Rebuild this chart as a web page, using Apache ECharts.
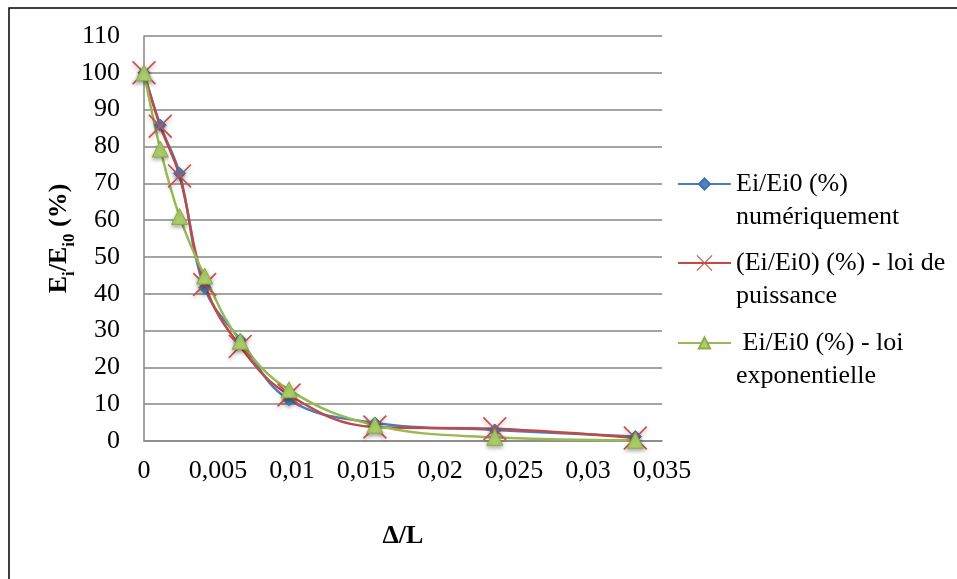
<!DOCTYPE html>
<html>
<head>
<meta charset="utf-8">
<script src="https://cdn.jsdelivr.net/npm/echarts@6/dist/echarts.min.js"></script>
<style>html,body{margin:0;padding:0;background:#fff}#c{width:957px;height:579px}</style>
</head>
<body>
<div id="c"></div>
<script>
const xValues = [0, 0.0011, 0.0024, 0.0041, 0.0065, 0.0098, 0.0156, 0.0237, 0.0332];
const numerique = [100, 85.8, 72.7, 41.6, 27.5, 11.2, 4.9, 3.0, 1.2];
const puissance = [100, 85.5, 72, 42.5, 25.7, 12.5, 3.8, 3.3, 0.8];
const exponentielle = [100, 79.3, 61, 44.8, 27.1, 13.9, 4.3, 1.0, 0.2];
const seriesNames = ['Ei/Ei0 (%)\nnumériquement', '(Ei/Ei0) (%) - loi de\npuissance', ' Ei/Ei0 (%) - loi\nexponentielle'];
const yTicks = {min: 0, max: 110, interval: 10};
const xTicks = {min: 0, max: 0.035, interval: 0.005};

const FONT = '"Liberation Serif", "Times New Roman", serif';
const pairs = arr => xValues.map((x, i) => [x, arr[i]]);
const crossPath = 'path://M0,1L1,0L10,9L19,0L20,1L11,10L20,19L19,20L10,11L1,20L0,19L9,10Z';

const colors = ['#4a7ebb', '#be4b48', '#98b954'];
const chart = echarts.init(document.getElementById('c'), null, {renderer: 'canvas'});

function legendFor(i, centerY, iconH) {
  return {
    data: [seriesNames[i]],
    left: 677, top: centerY - 49.5, padding: 0,
    itemWidth: 53, itemHeight: iconH, itemGap: 5,
    formatter: name => '\n' + name,
    textStyle: {fontFamily: FONT, fontSize: 26, color: '#000', lineHeight: 33}
  };
}

chart.setOption({
  animation: false,
  graphic: [{type: 'rect', shape: {x: 9, y: 8, width: 1000, height: 1000}, style: {fill: 'none', stroke: '#000', lineWidth: 1.5}, silent: true}],
  grid: {left: 144, right: 295, top: 36, bottom: 138},
  legend: [legendFor(0, 184, 14), legendFor(1, 263, 20), legendFor(2, 343, 14)],
  xAxis: {
    type: 'value', min: xTicks.min, max: xTicks.max, interval: xTicks.interval,
    name: 'Δ/L', nameLocation: 'middle', nameGap: 82,
    nameTextStyle: {fontFamily: FONT, fontSize: 26, fontWeight: 'bold', color: '#000'},
    axisLine: {show: true, lineStyle: {color: '#868686', width: 1.5}},
    axisTick: {show: false},
    splitLine: {show: false},
    axisLabel: {fontFamily: FONT, fontSize: 26, color: '#000', margin: 17,
      formatter: v => String(+v.toFixed(4)).replace('.', ',')}
  },
  yAxis: {
    type: 'value', min: yTicks.min, max: yTicks.max, interval: yTicks.interval,
    name: '{b|E}{s|i}{b|/E}{s|i0}{b| (%)}', nameLocation: 'middle', nameGap: 72, nameRotate: 90,
    nameMoveOverlap: false,
    nameTextStyle: {
      rich: {
        b: {fontFamily: FONT, fontSize: 26, fontWeight: 'bold', color: '#000', lineHeight: 30, verticalAlign: 'bottom'},
        s: {fontFamily: FONT, fontSize: 17, fontWeight: 'bold', color: '#000', lineHeight: 30, verticalAlign: 'bottom', padding: [0, 0, -6, 0]}
      }
    },
    axisLine: {show: true, lineStyle: {color: '#868686', width: 1.5}},
    axisTick: {show: false},
    splitLine: {show: true, lineStyle: {color: '#868686', width: 1.5}},
    axisLabel: {fontFamily: FONT, fontSize: 26, color: '#000', margin: 24}
  },
  series: [
    {
      name: seriesNames[0], type: 'line', smooth: 0.4, data: pairs(numerique),
      color: colors[0], symbol: 'diamond', symbolSize: 12,
      lineStyle: {width: 2.5, color: colors[0]},
      itemStyle: {color: '#4f81bd', borderColor: '#3f70b0', borderWidth: 1, shadowBlur: 4, shadowColor: 'rgba(0,0,0,0.35)', shadowOffsetY: 2}
    },
    {
      name: seriesNames[1], type: 'line', smooth: 0.4, data: pairs(puissance),
      color: colors[1], symbol: crossPath, symbolSize: 24,
      lineStyle: {width: 2.5, color: colors[1]},
      itemStyle: {color: '#c9504c', shadowBlur: 4, shadowColor: 'rgba(0,0,0,0.3)', shadowOffsetY: 2}
    },
    {
      name: seriesNames[2], type: 'line', smooth: 0.4, data: pairs(exponentielle),
      color: colors[2], symbol: 'triangle', symbolSize: 16,
      lineStyle: {width: 2.5, color: colors[2]},
      itemStyle: {color: '#b0d06a', borderColor: '#8aad47', borderWidth: 1, shadowBlur: 4, shadowColor: 'rgba(0,0,0,0.35)', shadowOffsetY: 2}
    }
  ]
});
</script>
</body>
</html>
